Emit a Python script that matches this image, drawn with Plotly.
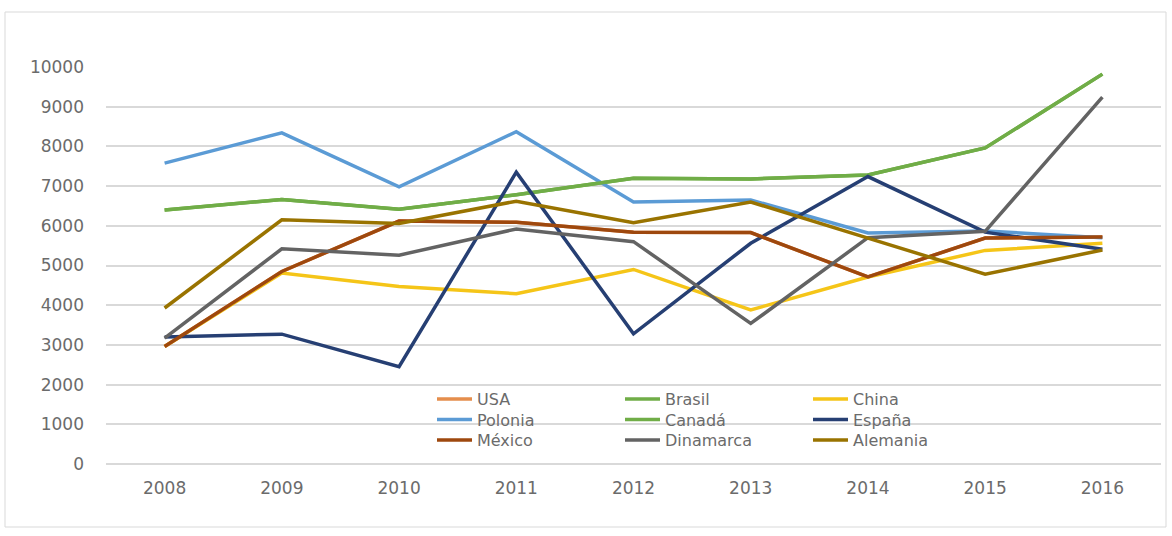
import plotly.graph_objects as go

years = ["2008", "2009", "2010", "2011", "2012", "2013", "2014", "2015", "2016"]

usa = [2960, 4850, 6120, 6090, 5840, 5830, 4710, 5690, 5720]
brasil = [6400, 6660, 6420, 6780, 7200, 7180, 7280, 7960, 9820]
china = [2960, 4810, 4470, 4290, 4900, 3880, 4710, 5380, 5560]
polonia = [7580, 8340, 6980, 8370, 6600, 6650, 5820, 5870, 5700]
canada = [6400, 6660, 6420, 6780, 7200, 7180, 7280, 7960, 9820]
espana = [3200, 3270, 2450, 7350, 3280, 5560, 7240, 5840, 5410]
mexico = [2960, 4850, 6120, 6090, 5840, 5830, 4710, 5690, 5720]
dinamarca = [3170, 5420, 5260, 5920, 5600, 3540, 5700, 5860, 9240]
alemania = [3930, 6150, 6060, 6620, 6080, 6600, 5690, 4780, 5390]

y_ticks = list(range(0, 10001, 1000))
y_labels = [str(v) for v in y_ticks]

# name, values, colour, legend row
series = [
    ("USA", usa, "#E58E4C", "legend"),
    ("Brasil", brasil, "#70AD47", "legend"),
    ("China", china, "#F5C518", "legend"),
    ("Polonia", polonia, "#5B9BD5", "legend2"),
    ("Canadá", canada, "#70AD47", "legend2"),
    ("España", espana, "#263F73", "legend2"),
    ("México", mexico, "#9E480E", "legend3"),
    ("Dinamarca", dinamarca, "#636363", "legend3"),
    ("Alemania", alemania, "#997300", "legend3"),
]

FONT = "DejaVu Sans"
TXT = "#6B6B6B"

fig = go.Figure()
for name, vals, color, leg in series:
    fig.add_trace(go.Scatter(
        x=years, y=vals, name=name, mode="lines",
        line=dict(color=color, width=3.5),
        legend=leg,
    ))

# plot area in pixels
L, R, T, B = 106, 1161, 66, 464
W, H = 1172, 536
pw, ph = R - L, B - T


def px_x(p):
    return (p - L) / pw


def px_y(p):
    return (B - p) / ph


leg_common = dict(
    orientation="h", xanchor="left", yanchor="middle",
    bgcolor="rgba(0,0,0,0)", borderwidth=0,
    font=dict(family=FONT, size=16, color=TXT),
    itemwidth=35, entrywidth=138, entrywidthmode="pixels",
    x=px_x(432),
)

fig.update_layout(
    width=W, height=H,
    margin=dict(l=L, r=W - R, t=T, b=H - B, pad=0),
    paper_bgcolor="white", plot_bgcolor="white",
    font=dict(family=FONT, size=15, color=TXT),
    legend=dict(y=px_y(399), **leg_common),
    legend2=dict(y=px_y(419.5), **leg_common),
    legend3=dict(y=px_y(440), **leg_common),
    xaxis=dict(
        type="category", range=[-0.5, len(years) - 0.5],
        showgrid=False, zeroline=False,
        showline=False, ticks="", ticklabelstandoff=12,
        tickfont=dict(family=FONT, size=17, color=TXT),
    ),
    yaxis=dict(
        range=[0, 10025], tickvals=y_ticks, ticktext=y_labels,
        showgrid=True, gridcolor="#D9D9D9", gridwidth=1.5,
        zeroline=True, zerolinecolor="#D9D9D9", zerolinewidth=1.5,
        showline=False, ticks="", ticklabelstandoff=21,
        tickfont=dict(family=FONT, size=17, color=TXT),
    ),
    shapes=[dict(
        type="rect", xref="paper", yref="paper",
        x0=px_x(5), x1=px_x(1166), y0=px_y(527), y1=px_y(12),
        line=dict(color="#D9D9D9", width=1), fillcolor="rgba(0,0,0,0)",
        layer="below",
    )],
)

fig.write_html("out.html")
